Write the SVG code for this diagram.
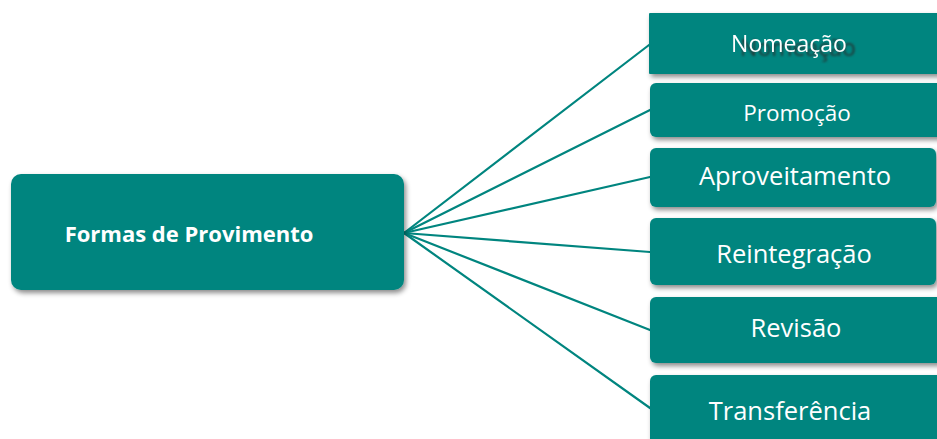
<svg xmlns="http://www.w3.org/2000/svg" width="937" height="439" viewBox="0 0 937 439">
<defs>
<filter id="sh" x="-10%" y="-20%" width="130%" height="160%">
<feDropShadow dx="2" dy="3" stdDeviation="2.5" flood-color="#000" flood-opacity="0.45"/>
</filter>
<filter id="tsh" x="-20%" y="-50%" width="150%" height="200%" color-interpolation-filters="sRGB">
<feGaussianBlur in="SourceAlpha" stdDeviation="0.9" result="b"/>
<feOffset in="b" dx="9" dy="4" result="o"/>
<feFlood flood-color="#243030" flood-opacity="0.85"/>
<feComposite in2="o" operator="in" result="s"/>
<feMerge><feMergeNode in="s"/><feMergeNode in="SourceGraphic"/></feMerge>
</filter>
</defs>
<style>
.box{fill:#00857f;filter:url(#sh);}
.t{fill:#ffffff;font-family:"Open Sans","Noto Sans",sans-serif;text-anchor:middle;}
.c{stroke:#00857f;stroke-width:2.2;fill:none;stroke-linecap:round;}
</style>
<rect width="937" height="439" fill="#ffffff"/>
<g id="connectors">
<line class="c" x1="404" y1="233" x2="649" y2="45"/>
<line class="c" x1="404" y1="233" x2="650" y2="110"/>
<line class="c" x1="404" y1="233" x2="650" y2="177"/>
<line class="c" x1="404" y1="233" x2="650" y2="252"/>
<line class="c" x1="404" y1="233" x2="650" y2="330"/>
<line class="c" x1="404" y1="233" x2="650" y2="408"/>
</g>
<g id="formas">
<rect class="box" x="11" y="174" width="393" height="116" rx="10"/>
<text class="t" x="189" y="242" font-size="22" font-weight="bold">Formas de Provimento</text>
</g>
<g id="nomeacao">
<rect class="box" x="649" y="13" width="300" height="61" rx="1"/>
<text class="t" x="789" y="52" font-size="23" filter="url(#tsh)">Nomeação</text>
</g>
<g id="promocao">
<rect class="box" x="650" y="83" width="300" height="54" rx="6"/>
<text class="t" x="797" y="121" font-size="22.5">Promoção</text>
</g>
<g id="aproveitamento">
<rect class="box" x="650" y="148" width="286" height="59" rx="6"/>
<text class="t" x="795" y="185" font-size="25.5">Aproveitamento</text>
</g>
<g id="reintegracao">
<rect class="box" x="650" y="218" width="286" height="67" rx="6"/>
<text class="t" x="794" y="263" font-size="25.5">Reintegração</text>
</g>
<g id="revisao">
<rect class="box" x="650" y="297" width="300" height="66" rx="6"/>
<text class="t" x="796" y="337" font-size="25.5">Revisão</text>
</g>
<g id="transferencia">
<rect class="box" x="650" y="375" width="300" height="80" rx="6"/>
<text class="t" x="790" y="420" font-size="25.5">Transferência</text>
</g>
</svg>
